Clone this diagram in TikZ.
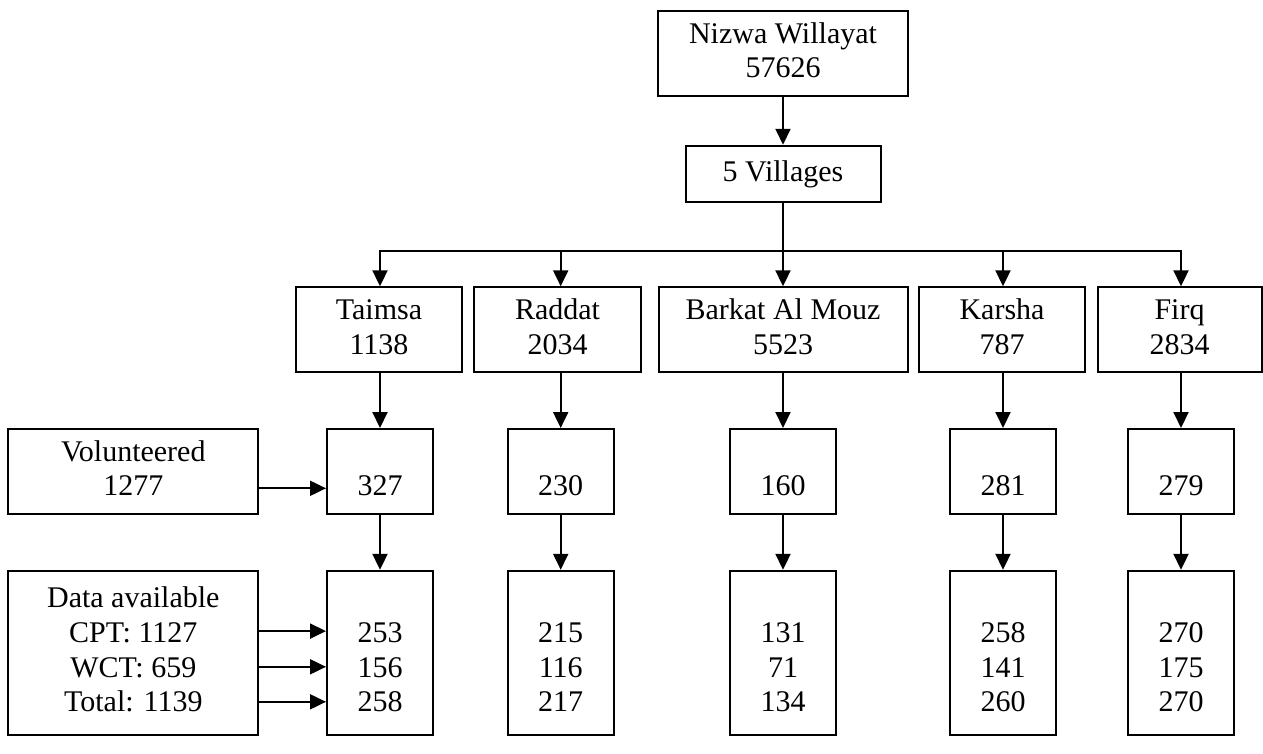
\documentclass[tikz,border=0pt]{standalone}
\usepackage{fontspec}
\setmainfont{Liberation Serif}
\usetikzlibrary{arrows.meta}
\begin{document}
\begin{tikzpicture}[x=1pt,y=-1pt,
  box/.style={draw=black,line width=2pt,inner sep=0pt,align=center,
    font=\fontsize{30}{34.6}\selectfont},
  arr/.style={line width=2pt,-{Triangle[length=16pt,width=15pt]}},
  ln/.style={line width=2pt}]
\useasboundingbox (0,0) rectangle (1263,753);
\node[box,minimum width=250,minimum height=85] (top) at (783,53.5) {\strut Nizwa Willayat\\\strut 57626};
\node[box,minimum width=195,minimum height=56.5] (vil) at (783,174) {5 Villages};
% row 1
\node[box,minimum width=166,minimum height=85] (t1) at (379,329.8) {\strut Taimsa\\\strut 1138};
\node[box,minimum width=167,minimum height=85] (r1) at (557.5,329.8) {\strut Raddat\\\strut 2034};
\node[box,minimum width=249,minimum height=85] (b1) at (783,329.8) {\strut Barkat Al Mouz\\\strut 5523};
\node[box,minimum width=166,minimum height=85] (k1) at (1002,329.8) {\strut Karsha\\\strut 787};
\node[box,minimum width=164,minimum height=85] (f1) at (1179.5,329.8) {\strut Firq\\\strut 2834};
% row 2
\node[box,minimum width=106,minimum height=85] (t2) at (380,471.5) {\strut\\\strut 327};
\node[box,minimum width=106,minimum height=85] (r2) at (560.7,471.5) {\strut\\\strut 230};
\node[box,minimum width=106,minimum height=85] (b2) at (783,471.5) {\strut\\\strut 160};
\node[box,minimum width=106,minimum height=85] (k2) at (1003,471.5) {\strut\\\strut 281};
\node[box,minimum width=106,minimum height=85] (f2) at (1181,471.5) {\strut\\\strut 279};
\node[box,minimum width=250,minimum height=85] (vol) at (133.3,471.5) {\strut Volunteered\\\strut 1277};
% row 3
\node[box,minimum width=106,minimum height=164] (t3) at (380,652.8) {\strut\\\strut 253\\\strut 156\\\strut 258};
\node[box,minimum width=106,minimum height=164] (r3) at (560.7,652.8) {\strut\\\strut 215\\\strut 116\\\strut 217};
\node[box,minimum width=106,minimum height=164] (b3) at (783,652.8) {\strut\\\strut 131\\\strut 71\\\strut 134};
\node[box,minimum width=106,minimum height=164] (k3) at (1003,652.8) {\strut\\\strut 258\\\strut 141\\\strut 260};
\node[box,minimum width=106,minimum height=164] (f3) at (1181,652.8) {\strut\\\strut 270\\\strut 175\\\strut 270};
\node[box,minimum width=250,minimum height=164] (dat) at (133.3,652.8) {\strut Data available\\\strut CPT: 1127\\\strut WCT: 659\\\strut Total: 1139};
% connectors
\coordinate (bus) at (0,250.5);
\draw[arr] (top) -- (vil);
\draw[ln] (vil.south) -- (vil.south |- bus);
\draw[ln,line cap=rect] (t2.north |- bus) -- (f2.north |- bus);
\foreach \a/\b in {t1/t2,r1/r2,b1/b2,k1/k2,f1/f2}{
  \draw[arr] (\b.north |- bus) -- (\b.north |- \a.north);
  \draw[arr] (\b.north |- \a.south) -- (\b.north);
}
\foreach \a/\b in {t2/t3,r2/r3,b2/b3,k2/k3,f2/f3}{
  \draw[arr] (\a.south) -- (\b.north);
}
\draw[arr] ([yshift=-16.8pt]vol.east) -- ([yshift=-16.8pt]t2.west);
\foreach \s in {21.7,-14,-49}{
  \draw[arr] ([yshift=\s pt]dat.east) -- ([yshift=\s pt]t3.west);
}
\end{tikzpicture}
\end{document}
